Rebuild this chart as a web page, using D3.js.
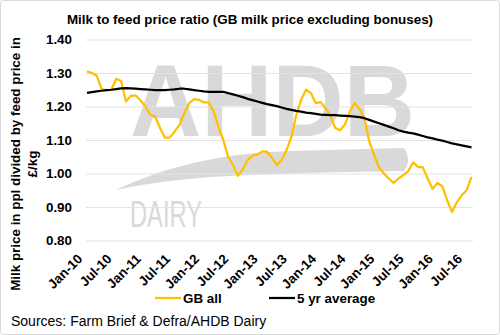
<!DOCTYPE html>
<html>
<head>
<meta charset="utf-8">
<script src="https://cdn.jsdelivr.net/npm/d3@7"></script>
<style>
body { margin: 0; background: #fff; }
text { font-family: "Liberation Sans", Arial, sans-serif; }
</style>
</head>
<body>
<svg id="chart" width="500" height="335"></svg>
<script>
// monthly categories, Jan-10 .. Aug-16
var months = [
	'Jan-10','Feb-10','Mar-10','Apr-10','May-10','Jun-10','Jul-10','Aug-10','Sep-10','Oct-10','Nov-10','Dec-10',
	'Jan-11','Feb-11','Mar-11','Apr-11','May-11','Jun-11','Jul-11','Aug-11','Sep-11','Oct-11','Nov-11','Dec-11',
	'Jan-12','Feb-12','Mar-12','Apr-12','May-12','Jun-12','Jul-12','Aug-12','Sep-12','Oct-12','Nov-12','Dec-12',
	'Jan-13','Feb-13','Mar-13','Apr-13','May-13','Jun-13','Jul-13','Aug-13','Sep-13','Oct-13','Nov-13','Dec-13',
	'Jan-14','Feb-14','Mar-14','Apr-14','May-14','Jun-14','Jul-14','Aug-14','Sep-14','Oct-14','Nov-14','Dec-14',
	'Jan-15','Feb-15','Mar-15','Apr-15','May-15','Jun-15','Jul-15','Aug-15','Sep-15','Oct-15','Nov-15','Dec-15',
	'Jan-16','Feb-16','Mar-16','Apr-16','May-16','Jun-16','Jul-16','Aug-16'
];

var gbAll = [
	1.305, 1.300, 1.292, 1.252, 1.248, 1.250, 1.283, 1.276, 1.215, 1.232, 1.233, 1.218,
	1.200, 1.176, 1.170, 1.136, 1.107, 1.107, 1.125, 1.145, 1.180, 1.210, 1.222, 1.220,
	1.212, 1.212, 1.186, 1.140, 1.100, 1.050, 1.025, 0.993, 1.012, 1.040, 1.053, 1.057,
	1.066, 1.065, 1.047, 1.025, 1.040, 1.070, 1.110, 1.175, 1.220, 1.250, 1.240, 1.210,
	1.213, 1.195, 1.173, 1.136, 1.129, 1.146, 1.185, 1.210, 1.193, 1.165, 1.095, 1.055,
	1.018, 1.000, 0.985, 0.972, 0.985, 0.995, 1.007, 1.033, 1.020, 1.018, 0.985, 0.954,
	0.972, 0.962, 0.920, 0.885, 0.914, 0.935, 0.950, 0.990
];

var fiveYrAvg = [
	1.241, 1.243, 1.245, 1.247, 1.249, 1.250, 1.252, 1.254, 1.255, 1.254, 1.253, 1.252,
	1.251, 1.250, 1.249, 1.249, 1.249, 1.250, 1.251, 1.253, 1.253, 1.251, 1.249, 1.247,
	1.245, 1.244, 1.244, 1.244, 1.244, 1.240, 1.236, 1.232, 1.228, 1.223, 1.219, 1.215,
	1.211, 1.207, 1.204, 1.201, 1.197, 1.193, 1.190, 1.187, 1.185, 1.182, 1.180, 1.178,
	1.176, 1.175, 1.174, 1.174, 1.173, 1.172, 1.171, 1.170, 1.168, 1.165, 1.160, 1.155,
	1.150, 1.145, 1.140, 1.135, 1.129, 1.125, 1.122, 1.120, 1.116, 1.112, 1.108, 1.105,
	1.101, 1.098, 1.094, 1.090, 1.087, 1.084, 1.081, 1.078
];

var yTicks = [0.80, 0.90, 1.00, 1.10, 1.20, 1.30, 1.40];
var xTickLabels = ['Jan-10','Jul-10','Jan-11','Jul-11','Jan-12','Jul-12','Jan-13',
	'Jul-13','Jan-14','Jul-14','Jan-15','Jul-15','Jan-16','Jul-16'];

var seriesNames = ['GB all', '5 yr average'];
var seriesColors = ['#ffc000', '#000000'];

var svg = d3.select('#chart');

// outer chart frame
svg.append('rect')
	.attr('x', 0.5).attr('y', 0.5)
	.attr('width', 499).attr('height', 334)
	.attr('rx', 3)
	.attr('fill', '#fff')
	.attr('stroke', '#d9d9d9');

var scaleX = d3.scalePoint()
	.domain(months)
	.range([87, 471.5]);

var scaleY = d3.scaleLinear()
	.domain([0.8, 1.4])
	.range([240.5, 39.5]);

// AHDB Dairy watermark
var wm = svg.append('g').attr('fill', '#d9d9d9');
wm.append('text')
	.attr('x', 130).attr('y', 136)
	.attr('font-size', 102)
	.attr('font-weight', 'bold')
	.attr('textLength', 285)
	.attr('lengthAdjust', 'spacingAndGlyphs')
	.text('AHDB');
wm.append('path')
	.attr('d', 'M116,190 Q190,154 290,151 L404,148 Q412,160 404,171 Q320,172 250,175 Q170,178 116,190 Z');
wm.append('text')
	.attr('x', 130).attr('y', 227)
	.attr('font-size', 36)
	.attr('textLength', 72)
	.attr('lengthAdjust', 'spacingAndGlyphs')
	.text('DAIRY');

// gridlines
var yAxis = d3.axisLeft(scaleY)
	.tickValues(yTicks)
	.tickSize(-387)
	.tickPadding(14)
	.tickFormat(d3.format('.2f'));

var gy = svg.append('g')
	.attr('transform', 'translate(86,0)')
	.call(yAxis);
gy.select('.domain').remove();
gy.selectAll('line').attr('stroke', '#e3e3e3');
gy.selectAll('text')
	.attr('font-size', 13.4)
	.attr('font-weight', 'bold')
	.attr('fill', '#000')
	.attr('font-family', '"Liberation Sans", Arial, sans-serif');

// x labels
var xAxis = d3.axisBottom(scaleX)
	.tickValues(xTickLabels)
	.tickSize(0);
var gx = svg.append('g')
	.attr('transform', 'translate(0,241)')
	.call(xAxis);
gx.select('.domain').remove();
gx.selectAll('text')
	.attr('font-size', 13.4)
	.attr('font-weight', 'bold')
	.attr('fill', '#000')
	.attr('font-family', '"Liberation Sans", Arial, sans-serif')
	.attr('text-anchor', 'end')
	.attr('y', 0)
	.attr('transform', 'translate(-11,12) rotate(-45)')
	.attr('dy', '0.72em');

// lines
var line = d3.line()
	.x(function(d, i) { return scaleX(months[i]); })
	.y(function(d) { return scaleY(d); });

svg.append('path')
	.datum(gbAll)
	.attr('fill', 'none')
	.attr('stroke', seriesColors[0])
	.attr('stroke-width', 2.25)
	.attr('stroke-linejoin', 'round')
	.attr('d', line);

svg.append('path')
	.datum(fiveYrAvg)
	.attr('fill', 'none')
	.attr('stroke', seriesColors[1])
	.attr('stroke-width', 2.25)
	.attr('stroke-linejoin', 'round')
	.attr('d', line);

// title
svg.append('text')
	.attr('x', 250).attr('y', 24)
	.attr('text-anchor', 'middle')
	.attr('font-size', 13.4)
	.attr('font-weight', 'bold')
	.text('Milk to feed price ratio (GB milk price excluding bonuses)');

// y axis title
var yt = svg.append('text')
	.attr('transform', 'translate(0,164) rotate(-90)')
	.attr('text-anchor', 'middle')
	.attr('font-size', 13.4)
	.attr('font-weight', 'bold');
yt.append('tspan').attr('x', 0).attr('y', 20).text('Milk price in ppl divided by feed price in');
yt.append('tspan').attr('x', 0).attr('y', 37).text('£/kg');

// legend
var legendX = [155, 269];
var legend = svg.selectAll('.legend')
	.data(seriesNames)
	.enter().append('g')
	.attr('class', 'legend')
	.attr('transform', function(d, i) { return 'translate(' + legendX[i] + ',298)'; });
legend.append('line')
	.attr('x1', 0).attr('x2', 26)
	.attr('stroke', function(d, i) { return seriesColors[i]; })
	.attr('stroke-width', 2.25);
legend.append('text')
	.attr('x', 28).attr('y', 5)
	.attr('font-size', 13.4)
	.attr('font-weight', 'bold')
	.text(function(d) { return d; });

// source note
svg.append('text')
	.attr('x', 11).attr('y', 326)
	.attr('font-size', 14)
	.text('Sources: Farm Brief & Defra/AHDB Dairy');
</script>
</body>
</html>
